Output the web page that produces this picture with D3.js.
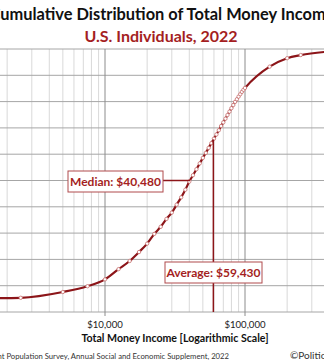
<!DOCTYPE html>
<html>
<head>
<meta charset="utf-8">
<script src="https://cdn.jsdelivr.net/npm/d3@7"></script>
<style>
  html, body { margin: 0; padding: 0; background: #fff; }
  svg { display: block; }
</style>
</head>
<body>
<svg id="chart" width="324" height="362"></svg>
<script>
// ---- data ----
const incomes = [1000, 2500, 5000, 7500, 10000, 12500, 15000, 17500, 20000, 22500, 25000, 27500,
  30000, 32500, 35000, 37500, 40000, 42500, 45000, 47500, 50000, 52500, 55000, 57500, 60000,
  62500, 65000, 67500, 70000, 72500, 75000, 77500, 80000, 82500, 85000, 87500, 90000, 92500,
  95000, 97500, 100000, 150000, 200000, 250000, 500000, 1000000];
const cumulativePct = [5.1, 5.4, 7.6, 9.8, 12.4, 16.3, 19.4, 22.8, 26.0, 29.7, 32.4, 35.4,
  37.8, 40.8, 43.6, 46.5, 49.6, 52.0, 54.3, 56.5, 58.6, 60.5, 62.4, 64.2, 65.9,
  67.5, 69.1, 70.7, 72.1, 73.5, 74.9, 76.2, 77.5, 78.7, 79.9, 80.9, 81.9, 82.8,
  83.7, 84.5, 85.2, 93.3, 96.5, 97.7, 99.4, 100];
const markerIncomes = incomes.filter(v => v > 1000 && v < 500000);
const xTickValues = [10000, 100000];
const xTickLabels = ["$10,000", "$100,000"];
const yGridValues = [0, 10, 20, 30, 40, 50, 60, 70, 80, 90, 100];
const median = { income: 40480, pct: 50, label: "Median: $40,480" };
const average = { income: 59430, pct: 65.6, label: "Average: $59,430" };
const titleText = "Cumulative Distribution of Total Money Income";
const subtitleText = "U.S. Individuals, 2022";
const xAxisTitle = "Total Money Income [Logarithmic Scale]";
const sourceText = "Source: U.S. Census Bureau, Current Population Survey, Annual Social and Economic Supplement, 2022";
const creditText = "\u00A9PoliticalCalculations";

// ---- layout ----
const svg = d3.select("#chart");
const x = d3.scaleLog().domain([1000, 1000000]).range([-35, 385]);
const y = d3.scaleLinear().domain([0, 100]).range([312, 49]);
const RED = "#8c1519";
const TEXTRED = "#a41e22";
const FONT = "Lato, 'Open Sans', sans-serif";

const g = svg.append("g");

// minor vertical gridlines
const minor = [];
[1000, 10000, 100000].forEach(b => { for (let m = 2; m <= 9; m++) minor.push(b * m); });
g.selectAll("line.vminor").data(minor).join("line")
  .attr("x1", d => x(d)).attr("x2", d => x(d))
  .attr("y1", y(100)).attr("y2", y(0))
  .attr("stroke", "#d9d9d9").attr("stroke-width", 1);

// horizontal gridlines
g.selectAll("line.h").data(yGridValues).join("line")
  .attr("x1", 0).attr("x2", 324)
  .attr("y1", d => y(d)).attr("y2", d => y(d))
  .attr("stroke", "#a6a6a6").attr("stroke-width", 1);

// major vertical gridlines
g.selectAll("line.vmajor").data([1000, 10000, 100000, 1000000]).join("line")
  .attr("x1", d => x(d)).attr("x2", d => x(d))
  .attr("y1", y(100)).attr("y2", y(0) + 4)
  .attr("stroke", "#8c8c8c").attr("stroke-width", 1);

// x axis tick labels
g.selectAll("text.xt").data(xTickValues).join("text")
  .attr("x", d => x(d)).attr("y", 328)
  .attr("text-anchor", "middle")
  .attr("font-family", FONT).attr("font-size", 9.6).attr("fill", "#222")
  .text((d, i) => xTickLabels[i]);

// curve
const pts = incomes.map((v, i) => [x(v), y(cumulativePct[i])]);
const line = d3.line().curve(d3.curveMonotoneX);
g.append("path").attr("d", line(pts))
  .attr("fill", "none").attr("stroke", RED).attr("stroke-width", 2.2);

// markers
g.selectAll("circle.m").data(markerIncomes).join("circle")
  .attr("cx", d => x(d))
  .attr("cy", d => y(cumulativePct[incomes.indexOf(d)]))
  .attr("r", 1.7)
  .attr("fill", "#fff").attr("stroke", "#c8706f").attr("stroke-width", 0.8);

// median annotation
const medBox = { x: 68, y: 171, w: 95, h: 21 };
g.append("line")
  .attr("x1", medBox.x + medBox.w).attr("x2", x(median.income))
  .attr("y1", y(median.pct)).attr("y2", y(median.pct))
  .attr("stroke", RED).attr("stroke-width", 1.5);
g.append("rect").attr("x", medBox.x).attr("y", medBox.y)
  .attr("width", medBox.w).attr("height", medBox.h)
  .attr("fill", "#fff").attr("stroke", "#b04a4c").attr("stroke-width", 1);
g.append("text").attr("x", medBox.x + medBox.w / 2).attr("y", medBox.y + medBox.h / 2 + 4.3)
  .attr("text-anchor", "middle").attr("font-family", FONT).attr("font-weight", "bold")
  .attr("font-size", 12).attr("fill", TEXTRED).text(median.label);

// average annotation
g.append("line")
  .attr("x1", x(average.income)).attr("x2", x(average.income))
  .attr("y1", y(average.pct)).attr("y2", y(0))
  .attr("stroke", RED).attr("stroke-width", 1.5);
const avgBox = { x: 165, y: 262, w: 97, h: 21 };
g.append("rect").attr("x", avgBox.x).attr("y", avgBox.y)
  .attr("width", avgBox.w).attr("height", avgBox.h)
  .attr("fill", "#fff").attr("stroke", "#b04a4c").attr("stroke-width", 1);
g.append("text").attr("x", avgBox.x + avgBox.w / 2).attr("y", avgBox.y + avgBox.h / 2 + 4.3)
  .attr("text-anchor", "middle").attr("font-family", FONT).attr("font-weight", "bold")
  .attr("font-size", 12).attr("fill", TEXTRED).text(average.label);

// titles
svg.append("text").attr("x", 162).attr("y", 20)
  .attr("text-anchor", "middle").attr("font-family", FONT).attr("font-weight", "bold")
  .attr("font-size", 16.4).attr("fill", "#111").text(titleText);
svg.append("text").attr("x", 161).attr("y", 42)
  .attr("text-anchor", "middle").attr("font-family", FONT).attr("font-weight", "bold")
  .attr("font-size", 16).attr("fill", TEXTRED).text(subtitleText);

// axis title
svg.append("text").attr("x", 175).attr("y", 342)
  .attr("text-anchor", "middle").attr("font-family", FONT).attr("font-weight", "bold")
  .attr("font-size", 10.6).attr("fill", "#111").text(xAxisTitle);

// source and credit
svg.append("text").attr("x", 229).attr("y", 359)
  .attr("text-anchor", "end").attr("font-family", FONT)
  .attr("font-size", 7.7).attr("fill", "#333").text(sourceText);
svg.append("text").attr("x", 290).attr("y", 359)
  .attr("text-anchor", "start").attr("font-family", FONT)
  .attr("font-size", 10).attr("fill", "#333").text(creditText);
</script>
</body>
</html>
